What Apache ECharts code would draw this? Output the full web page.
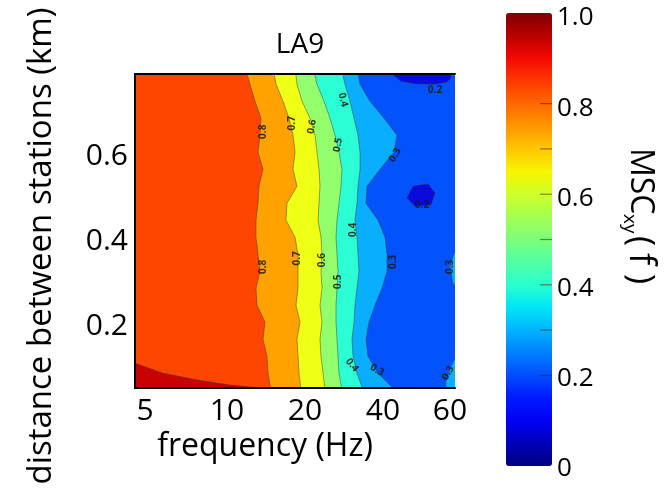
<!DOCTYPE html>
<html>
<head>
<meta charset="utf-8">
<script src="https://cdn.jsdelivr.net/npm/echarts@6/dist/echarts.min.js"></script>
<style>
  html, body { margin: 0; padding: 0; background: #ffffff; }
  #chart { width: 667px; height: 491px; }
</style>
</head>
<body>
<div id="chart"></div>
<script>
// ---- axes ----
const freqTickLabels = ['5', '10', '20', '40', '60'];
const freqTickPos = [1.0, 9.2, 17.0, 24.8, 31.5];      // frequency-bin position of each label
const distTicks = [0.2, 0.4, 0.6];
const colorbarTicks = [0, 0.2, 0.4, 0.6, 0.8, 1.0];
const colorbarLevelMarks = [0.2, 0.3, 0.4, 0.5, 0.6, 0.7, 0.8];

// ---- MSC contour boundaries ----
// distance rows (km), bottom to top
const distanceRows = [0.05, 0.09, 0.13, 0.17, 0.21, 0.25, 0.29, 0.33, 0.37, 0.41,
                      0.45, 0.49, 0.53, 0.57, 0.61, 0.65, 0.69, 0.73, 0.77, 0.81];
// frequency-bin position where MSC crosses each level, per distance row
const level08 = [13.6, 13.3, 13.2, 12.8, 13.0, 12.2, 12.1, 12.5, 12.3, 12.1,
                 12.1, 12.3, 12.4, 12.8, 12.3, 12.5, 12.6, 12.0, 11.5, 11.0];
const level07 = [16.6, 16.4, 16.3, 16.2, 16.5, 16.1, 16.3, 16.3, 16.3, 16.0,
                 15.1, 15.2, 16.2, 15.8, 16.0, 15.8, 15.4, 14.8, 14.1, 13.8];
const level06 = [19.0, 18.8, 18.6, 18.5, 18.7, 18.5, 18.7, 18.6, 18.7, 18.6,
                 18.3, 18.4, 18.5, 18.4, 18.2, 18.0, 17.5, 16.7, 16.2, 16.0];
const level05 = [20.7, 20.4, 20.3, 20.2, 20.1, 20.1, 20.2, 20.3, 20.2, 20.1,
                 20.2, 20.4, 20.6, 20.7, 20.4, 20.0, 19.5, 18.9, 18.2, 17.8];
const level04 = [22.8, 22.2, 21.8, 21.7, 21.9, 22.0, 22.2, 22.4, 22.3, 22.2,
                 22.0, 22.2, 22.3, 22.5, 22.5, 22.3, 21.9, 21.5, 21.0, 20.6];
const level03 = [26.0, 24.3, 23.3, 23.1, 23.4, 24.0, 24.7, 25.2, 25.2, 25.0,
                 24.3, 23.1, 23.2, 24.5, 25.9, 26.2, 24.9, 23.5, 22.5, 22.2];

// closed pockets: [bin, distance]
const corner09 = [[-1, 0.118], [0, 0.113], [2.8, 0.090], [6.2, 0.074], [9.5, 0.062], [13.5, 0.053], [14, 0.045]];
const pocketsBelow02 = [
  [[25.8, 0.82], [25.9, 0.79], [26.6, 0.777], [28.0, 0.771], [30.0, 0.770], [31.2, 0.775], [31.6, 0.785], [31.4, 0.82]],
  [[27.2, 0.502], [27.8, 0.530], [29.3, 0.535], [30.0, 0.514], [29.6, 0.486], [28.0, 0.483]]
];
const pocketsAbove03 = [
  [[33, 0.39], [31.9, 0.372], [31.5, 0.34], [31.8, 0.30], [33, 0.285]],
  [[33, 0.15], [32.1, 0.13], [31.5, 0.10], [31.1, 0.07], [31.0, 0.03]]
];

// inline contour labels
const labelLevels = [0.8, 0.8, 0.7, 0.7, 0.6, 0.6, 0.5, 0.5, 0.4, 0.4, 0.4, 0.3, 0.3, 0.3, 0.3, 0.3, 0.2, 0.2];
const labelBins   = [12.8, 12.8, 15.7, 16.2, 17.7, 18.7, 20.3, 20.3, 20.8, 21.8, 21.7, 26.0, 25.8, 24.2, 31.5, 31.3, 30.0, 28.7];
const labelDist   = [0.658, 0.340, 0.678, 0.360, 0.670, 0.356, 0.627, 0.305, 0.733, 0.427, 0.109, 0.603, 0.352, 0.097, 0.340, 0.090, 0.756, 0.486];
const labelAngle  = [90, 90, 90, 90, 80, 90, 80, 90, -75, 90, -50, 60, 90, -30, 90, 60, 0, 0];

// band fill colours (lower level of each band)
const bandColors = {
  0.1: '#0a0ade', 0.2: '#0352ff', 0.3: '#0aaeff', 0.4: '#2cffd6', 0.5: '#94ff6c',
  0.6: '#f0ff16', 0.7: '#ffa200', 0.8: '#ff4600', 0.9: '#c80000'
};
// jet colour map for the colour bar
const jetStops = ['#000080', '#0000b9', '#0000f4', '#001aff', '#004dff', '#0080ff', '#00b3ff',
                  '#00e6f7', '#29ffce', '#52ffa4', '#7bff7b', '#a4ff52', '#ceff29', '#f7f500',
                  '#ffc600', '#ff9700', '#ff6800', '#ff3900', '#f40900', '#b90000', '#800000'];

const FONT = "'Open Sans', sans-serif";
const BIN_MIN = 0, BIN_MAX = 32, D_MIN = 0.055, D_MAX = 0.794;

function rowsOf(xs) { return distanceRows.map((d, i) => [xs[i], d]); }
function leftOf(xs) {
  const pts = rowsOf(xs);
  return [[-2, distanceRows[0]]].concat(pts, [[-2, distanceRows[distanceRows.length - 1]]]);
}

// painter's order: each region covers everything to its left
const fillShapes = [
  { pts: [[-2, 0], [34, 0], [34, 1], [-2, 1]], color: bandColors[0.2] },
  { pts: leftOf(level03), color: bandColors[0.3] },
  { pts: leftOf(level04), color: bandColors[0.4] },
  { pts: leftOf(level05), color: bandColors[0.5] },
  { pts: leftOf(level06), color: bandColors[0.6] },
  { pts: leftOf(level07), color: bandColors[0.7] },
  { pts: leftOf(level08), color: bandColors[0.8] },
  { pts: corner09.concat([[14, 0], [-2, 0]]), color: bandColors[0.9] }
];
pocketsBelow02.forEach(p => fillShapes.push({ pts: p, color: bandColors[0.1] }));
pocketsAbove03.forEach(p => fillShapes.push({ pts: p.concat([[34, p[p.length - 1][1]], [34, p[0][1]]]), color: bandColors[0.3] }));

const lineShapes = [level03, level04, level05, level06, level07, level08].map(rowsOf);
lineShapes.push(corner09);
pocketsBelow02.forEach(p => lineShapes.push(p.concat([p[0]])));
pocketsAbove03.forEach(p => lineShapes.push(p));

const chart = echarts.init(document.getElementById('chart'));

const frameLine = { show: true, lineStyle: { color: '#000', width: 2 } };
const hiddenAxis = (gi) => ({ type: 'value', gridIndex: gi, min: 0, max: 1, show: false });

chart.setOption({
  animation: false,
  title: {
    text: 'LA9', left: 295, top: 26, textAlign: 'center',
    textStyle: { fontFamily: FONT, fontSize: 28, fontWeight: 'normal', color: '#000' }
  },
  grid: [
    { left: 135, top: 74, width: 320, height: 314 },   // contour panel
    { left: 506, top: 13, width: 46, height: 453 },    // colour bar
    { left: 506, top: 18, width: 46, height: 451 }     // colour bar labels
  ],
  xAxis: [
    {
      type: 'value', gridIndex: 0, min: BIN_MIN, max: BIN_MAX, z: 10,
      axisLine: frameLine, axisTick: { show: false }, splitLine: { show: false },
      axisLabel: {
        customValues: freqTickPos, margin: 8, color: '#000', fontFamily: FONT, fontSize: 30,
        formatter: v => {
          let k = 0;
          freqTickPos.forEach((p, i) => { if (Math.abs(p - v) < Math.abs(freqTickPos[k] - v)) k = i; });
          return freqTickLabels[k];
        }
      },
      name: 'frequency (Hz)', nameLocation: 'middle', nameGap: 41,
      nameTextStyle: { fontFamily: FONT, fontSize: 32, color: '#000', padding: [0, 60, 0, 0] }
    },
    {
      type: 'value', gridIndex: 0, position: 'top', min: BIN_MIN, max: BIN_MAX, z: 10,
      axisLine: frameLine, axisTick: { show: false }, axisLabel: { show: false }, splitLine: { show: false }
    },
    hiddenAxis(1),
    hiddenAxis(2)
  ],
  yAxis: [
    {
      type: 'value', gridIndex: 0, min: D_MIN, max: D_MAX, z: 10,
      axisLine: frameLine, axisTick: { show: false }, splitLine: { show: false },
      axisLabel: {
        customValues: distTicks, margin: 7, color: '#000', fontFamily: FONT, fontSize: 30,
        formatter: v => v.toFixed(1)
      },
      name: 'distance between stations (km)', nameLocation: 'middle', nameGap: 77,
      nameTextStyle: { fontFamily: FONT, fontSize: 33, color: '#000', padding: [0, 30, 0, 0] }
    },
    {
      type: 'value', gridIndex: 0, position: 'right', min: D_MIN, max: D_MAX, z: 10,
      axisLine: frameLine, axisTick: { show: false }, axisLabel: { show: false }, splitLine: { show: false }
    },
    hiddenAxis(1),
    {
      type: 'value', gridIndex: 2, position: 'right', min: 0, max: 1,
      axisLine: { show: false }, axisTick: { show: false }, splitLine: { show: false },
      axisLabel: {
        customValues: colorbarTicks, margin: 5, color: '#000', fontFamily: FONT, fontSize: 26,
        formatter: v => (v === 0 ? '0' : v.toFixed(1))
      }
    }
  ],
  visualMap: {
    type: 'continuous', min: 0, max: 1, seriesIndex: 2,
    left: 506, top: 13, itemWidth: 46, itemHeight: 453, padding: 0, z: 2,
    calculable: false, text: null, hoverLink: false,
    inRange: { color: jetStops },
    textStyle: { fontSize: 0 }
  },
  graphic: [{
    type: 'group', x: 640, y: 226, rotation: -Math.PI / 2,
    children: [
      { type: 'text', x: -78, y: 0, style: { text: 'MSC', fontFamily: FONT, fontSize: 32, fill: '#000', verticalAlign: 'middle', align: 'left' } },
      { type: 'text', x: -12, y: 11, style: { text: 'xy', fontFamily: FONT, fontSize: 19, fill: '#000', verticalAlign: 'middle', align: 'left' } },
      { type: 'text', x: 10, y: 0, style: { text: '(', fontFamily: FONT, fontSize: 34, fill: '#000', verticalAlign: 'middle', align: 'left' } },
      { type: 'text', x: 27, y: 0, style: { text: 'f', fontFamily: FONT, fontSize: 36, fill: '#000', verticalAlign: 'middle', align: 'left' } },
      { type: 'text', x: 48, y: 0, style: { text: ')', fontFamily: FONT, fontSize: 34, fill: '#000', verticalAlign: 'middle', align: 'left' } }
    ]
  }],
  series: [
    {
      // filled MSC bands
      type: 'custom', xAxisIndex: 0, yAxisIndex: 0, clip: true, silent: true,
      data: fillShapes.map((s, i) => [i]),
      renderItem: (params, api) => {
        const s = fillShapes[params.dataIndex];
        return {
          type: 'polygon',
          shape: { points: s.pts.map(p => api.coord(p)) },
          style: { fill: s.color, stroke: null }
        };
      }
    },
    {
      // contour lines
      type: 'custom', xAxisIndex: 0, yAxisIndex: 0, clip: true, silent: true,
      data: lineShapes.map((s, i) => [i]),
      renderItem: (params, api) => ({
        type: 'polyline',
        shape: { points: lineShapes[params.dataIndex].map(p => api.coord(p)) },
        style: { fill: null, stroke: 'rgba(50,50,30,0.45)', lineWidth: 1 }
      })
    },
    {
      // inline level labels
      type: 'custom', xAxisIndex: 0, yAxisIndex: 0, clip: true, silent: true,
      data: labelLevels.map((v, i) => [labelBins[i], labelDist[i]]),
      renderItem: (params, api) => {
        const i = params.dataIndex;
        const c = api.coord([labelBins[i], labelDist[i]]);
        return {
          type: 'text', x: c[0], y: c[1], rotation: labelAngle[i] * Math.PI / 180,
          style: {
            text: labelLevels[i].toFixed(1), fontFamily: FONT, fontSize: 10, fontWeight: 'bold',
            fill: 'rgba(25,25,15,0.85)', align: 'center', verticalAlign: 'middle'
          }
        };
      }
    },
    {
      // contour level marks across the right side of the colour bar
      type: 'custom', xAxisIndex: 2, yAxisIndex: 2, silent: true, z: 20,
      data: colorbarLevelMarks.map(v => [0.74, v]),
      renderItem: (params, api) => {
        const v = colorbarLevelMarks[params.dataIndex];
        const a = api.coord([0.74, v]);
        const b = api.coord([1, v]);
        return {
          type: 'line', shape: { x1: a[0], y1: a[1], x2: b[0], y2: b[1] },
          style: { stroke: 'rgba(60,35,10,0.55)', lineWidth: 1.2 }
        };
      }
    }
  ]
});
</script>
</body>
</html>
